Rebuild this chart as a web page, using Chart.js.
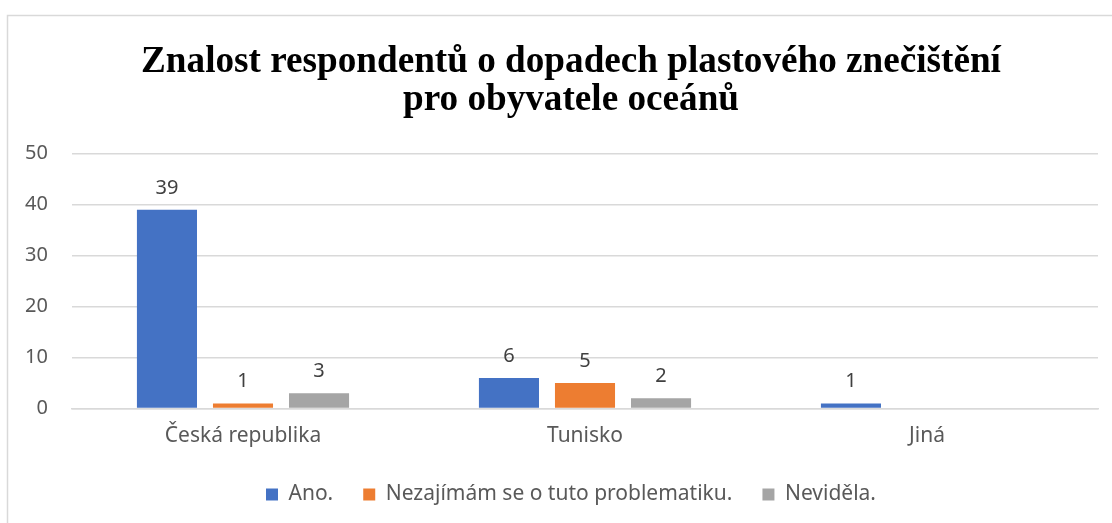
<!DOCTYPE html>
<html>
<head>
<meta charset="utf-8">
<script src="https://cdn.jsdelivr.net/npm/chart.js@4/dist/chart.umd.min.js"></script>
<style>
html,body{margin:0;padding:0;background:#fff;overflow:hidden;width:1112px;height:523px;}
#wrap{position:absolute;left:0;top:0;width:1112px;height:523px;}
</style>
</head>
<body>
<div id="wrap"><canvas id="c" width="1112" height="523"></canvas></div>
<script>
const categories = ["Česká republika", "Tunisko", "Jiná"];
const seriesNames = ["Ano.", "Nezajímám se o tuto problematiku.", "Neviděla."];
const ano = [39, 6, 1];
const nezajimam = [1, 5, null];
const nevidela = [3, 2, null];
const yTicks = [0, 10, 20, 30, 40, 50];
const titleLines = ["Znalost respondentů o dopadech plastového znečištění", "pro obyvatele oceánů"];
const colors = ["#4472C4", "#ED7D31", "#A5A5A5"];

const borderPlugin = {
  id: 'outerBorder',
  beforeDraw(chart) {
    const ctx = chart.ctx;
    ctx.save();
    ctx.fillStyle = '#fff';
    ctx.fillRect(0, 0, chart.width, chart.height);
    ctx.strokeStyle = '#d9d9d9';
    ctx.lineWidth = 1.5;
    ctx.strokeRect(7.5, 15.5, chart.width + 20, chart.height + 20);
    ctx.restore();
  }
};

const labelPlugin = {
  id: 'valueLabels',
  afterDatasetsDraw(chart) {
    const ctx = chart.ctx;
    ctx.save();
    ctx.font = '20px "Noto Sans"';
    ctx.fillStyle = '#404040';
    ctx.textAlign = 'center';
    ctx.textBaseline = 'alphabetic';
    chart.data.datasets.forEach((ds, i) => {
      const meta = chart.getDatasetMeta(i);
      meta.data.forEach((bar, j) => {
        const v = ds.data[j];
        if (v === null || v === undefined) return;
        ctx.fillText(String(v), bar.x, bar.y - 16);
      });
    });
    ctx.restore();
  }
};

new Chart(document.getElementById('c'), {
  type: 'bar',
  data: {
    labels: categories,
    datasets: [
      { label: seriesNames[0], data: ano, backgroundColor: colors[0] },
      { label: seriesNames[1], data: nezajimam, backgroundColor: colors[1] },
      { label: seriesNames[2], data: nevidela, backgroundColor: colors[2] }
    ]
  },
  options: {
    responsive: false,
    animation: false,
    devicePixelRatio: 1,
    datasets: { bar: { categoryPercentage: 0.667, barPercentage: 0.79 } },
    layout: { padding: { left: 44, right: 14, top: 43, bottom: 8 } },
    plugins: {
      title: {
        display: true,
        text: titleLines,
        color: '#000',
        font: { family: '"Liberation Serif"', size: 37.2, weight: 'bold', lineHeight: 1.03 },
        padding: { top: 0, bottom: 34 }
      },
      legend: {
        position: 'bottom',
        labels: {
          boxWidth: 12, boxHeight: 12, color: '#595959',
          font: { family: '"Noto Sans"', size: 21 },
          padding: 30
        }
      },
      tooltip: { enabled: false }
    },
    scales: {
      x: {
        afterFit(axis) { axis.height = 45.5; },
        grid: { display: false, drawTicks: false },
        border: { display: true, color: '#d9d9d9', width: 1.5 },
        ticks: { color: '#595959', font: { family: '"Noto Sans"', size: 21 }, padding: 15 }
      },
      y: {
        min: 0, max: 50,
        afterFit(axis) { axis.width = 28; },
        afterBuildTicks(axis) { axis.ticks = yTicks.map(v => ({ value: v })); },
        grid: { color: '#d9d9d9', lineWidth: 1.5, drawTicks: false },
        border: { display: false },
        ticks: { color: '#595959', font: { family: '"Noto Sans"', size: 20 }, mirror: true, crossAlign: 'far', padding: -47 }
      }
    }
  },
  plugins: [borderPlugin, labelPlugin]
});
</script>
</body>
</html>
